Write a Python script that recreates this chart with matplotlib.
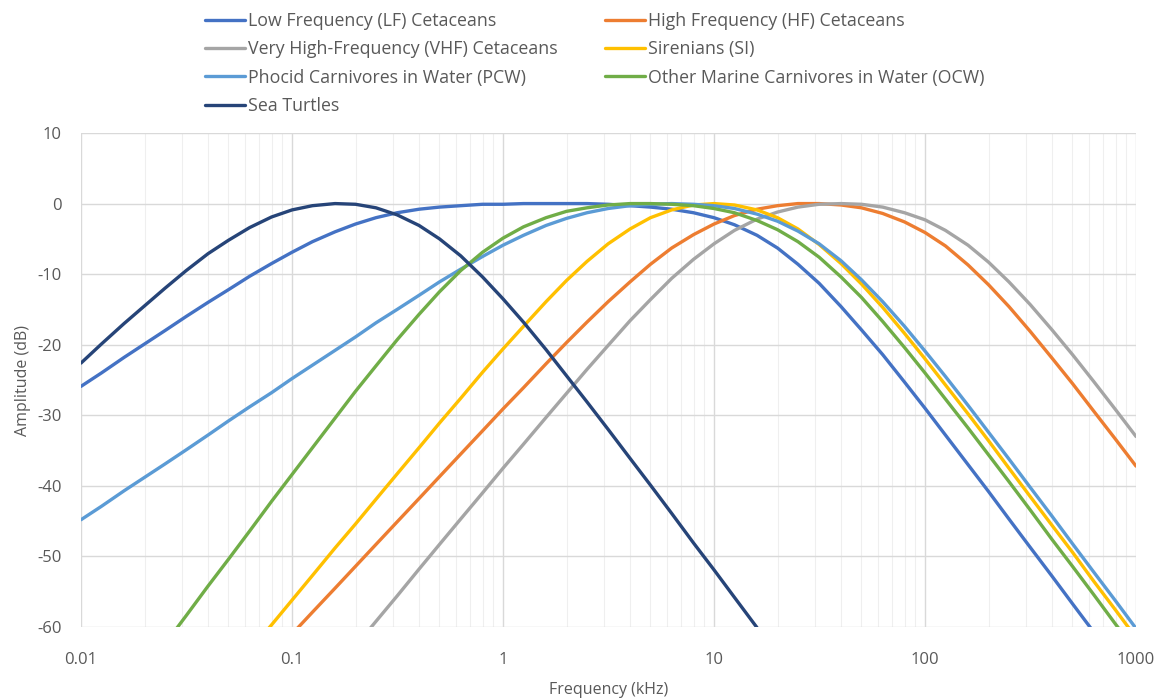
import numpy as np
import matplotlib
matplotlib.use("Agg")
import matplotlib.pyplot as plt

# Frequency (kHz) at which the curves were read
freq = [0.01, 0.0125, 0.016, 0.02, 0.025, 0.0315, 0.04, 0.05, 0.063, 0.08,
        0.1, 0.125, 0.16, 0.2, 0.25, 0.315, 0.4, 0.5, 0.63, 0.8,
        1.0, 1.25, 1.6, 2.0, 2.5, 3.15, 4.0, 5.0, 6.3, 8.0,
        10.0, 12.5, 16.0, 20.0, 25.0, 31.5, 40.0, 50.0, 63.0, 80.0,
        100.0, 125.0, 160.0, 200.0, 250.0, 315.0, 400.0, 500.0, 630.0, 800.0, 1000.0]

# Amplitude (dB); None = below the plotted range
lf = [-25.9, -24.0, -21.8, -19.9, -18.0, -16.0, -14.0, -12.2, -10.3, -8.5,
      -6.9, -5.4, -4.0, -2.9, -2.0, -1.3, -0.8, -0.5, -0.3, -0.1,
      -0.1, 0.0, 0.0, 0.0, 0.0, -0.1, -0.3, -0.5, -0.8, -1.3,
      -2.0, -3.0, -4.5, -6.3, -8.6, -11.3, -14.6, -17.9, -21.4, -25.3,
      -29.0, -32.8, -37.0, -40.8, -44.7, -48.7, -52.8, -56.7, -60.7, None, None]
hf = [None, None, None, None, None, None, None, None, None, None,
      -61.0, -57.9, -54.5, -51.4, -48.3, -45.1, -41.8, -38.7, -35.5, -32.2,
      -29.1, -26.1, -22.7, -19.7, -16.8, -13.9, -11.1, -8.6, -6.3, -4.4,
      -2.9, -1.7, -0.8, -0.3, 0.0, 0.0, -0.2, -0.6, -1.4, -2.6,
      -4.1, -6.0, -8.7, -11.5, -14.6, -18.1, -21.9, -25.5, -29.4, -33.4, -37.2]
vhf = [None, None, None, None, None, None, None, None, None, None,
       None, None, None, -62.7, -59.2, -55.6, -51.8, -48.3, -44.7, -41.0,
       -37.5, -34.1, -30.3, -26.9, -23.5, -20.1, -16.6, -13.6, -10.6, -7.9,
       -5.7, -3.8, -2.2, -1.2, -0.5, -0.1, 0.0, -0.1, -0.5, -1.3,
       -2.3, -3.8, -5.9, -8.3, -11.1, -14.3, -17.9, -21.4, -25.2, -29.2, -33.0]
si = [None, None, None, None, None, None, None, None, -63.4, -59.7,
      -56.2, -52.7, -48.8, -45.4, -41.9, -38.3, -34.6, -31.1, -27.6, -23.9,
      -20.6, -17.4, -13.9, -10.9, -8.2, -5.7, -3.6, -2.0, -0.9, -0.2,
      0.0, -0.2, -0.9, -2.0, -3.6, -5.8, -8.5, -11.4, -14.7, -18.4,
      -22.0, -25.7, -29.8, -33.6, -37.5, -41.5, -45.6, -49.4, -53.5, -57.6, -61.5]
pcw = [-44.8, -42.9, -40.7, -38.8, -36.9, -34.9, -32.8, -30.8, -28.8, -26.8,
       -24.8, -22.9, -20.8, -18.9, -16.9, -15.0, -13.0, -11.1, -9.3, -7.5,
       -5.9, -4.5, -3.1, -2.1, -1.3, -0.7, -0.3, -0.1, 0.0, -0.1,
       -0.3, -0.7, -1.5, -2.5, -3.9, -5.7, -8.1, -10.8, -13.9, -17.4,
       -20.9, -24.5, -28.6, -32.4, -36.2, -40.2, -44.3, -48.2, -52.2, -56.3, -60.2]
ocw = [None, None, None, None, -62.4, -58.4, -54.2, -50.4, -46.4, -42.2,
       -38.4, -34.6, -30.4, -26.6, -23.0, -19.3, -15.7, -12.5, -9.5, -6.9,
       -4.9, -3.3, -2.0, -1.1, -0.6, -0.2, 0.0, 0.0, -0.1, -0.3,
       -0.7, -1.3, -2.4, -3.7, -5.4, -7.6, -10.4, -13.3, -16.7, -20.4,
       -24.0, -27.7, -31.8, -35.6, -39.4, -43.4, -47.6, -51.4, -55.4, -59.6, -63.4]
turtles = [-22.6, -19.9, -17.0, -14.5, -12.0, -9.5, -7.1, -5.2, -3.4, -1.9,
           -0.9, -0.3, 0.0, -0.1, -0.6, -1.6, -3.1, -5.0, -7.4, -10.4,
           -13.5, -16.8, -20.7, -24.4, -28.1, -32.0, -36.1, -39.9, -43.9, -48.1,
           -51.9, -55.8, -60.1, None, None, None, None, None, None, None,
           None, None, None, None, None, None, None, None, None, None, None]

names = ["Low Frequency (LF) Cetaceans", "High Frequency (HF) Cetaceans",
         "Very High-Frequency (VHF) Cetaceans", "Sirenians (SI)",
         "Phocid Carnivores in Water (PCW)", "Other Marine Carnivores in Water (OCW)",
         "Sea Turtles"]
colors = ["#4472C4", "#ED7D31", "#A5A5A5", "#FFC000", "#5B9BD5", "#70AD47", "#264478"]
data = [lf, hf, vhf, si, pcw, ocw, turtles]
xticks = [0.01, 0.1, 1, 10, 100, 1000]
xticklabels = ["0.01", "0.1", "1", "10", "100", "1000"]
yticks = [-60, -50, -40, -30, -20, -10, 0, 10]


def arr(v):
    return np.array([np.nan if x is None else x for x in v], dtype=float)


plt.rcParams['font.family'] = ['Open Sans', 'DejaVu Sans']
plt.rcParams['axes.unicode_minus'] = False
txt = '#595959'
fig = plt.figure(figsize=(11.57, 7), dpi=100)
ax = fig.add_axes([81 / 1157, 1 - 627 / 700, (1136 - 81) / 1157, (627 - 133) / 700])

handles = []
for name, vals, col in zip(names, data, colors):
    h, = ax.plot(freq, arr(vals), color=col, lw=2.4, solid_capstyle='round',
                 solid_joinstyle='round', label=name)
    handles.append(h)

ax.set_xscale('log')
ax.set_xlim(0.01, 1000)
ax.set_ylim(-60, 10)
ax.set_yticks(yticks)
ax.set_xticks(xticks)
ax.set_xticklabels(xticklabels)
ax.grid(True, which='major', color='#D9D9D9', lw=1.0)
ax.grid(True, which='minor', axis='x', color='#EFEFEF', lw=0.8)
ax.set_axisbelow(True)
for s in ax.spines.values():
    s.set_visible(False)
ax.tick_params(which='both', length=0, colors=txt, labelsize=12)
ax.tick_params(axis='x', pad=18)
ax.tick_params(axis='y', pad=14)
ax.set_xlabel("Frequency (kHz)", color=txt, fontsize=11.5, labelpad=10)
ax.set_ylabel("Amplitude (dB)", color=txt, fontsize=11.5, labelpad=4)

col1 = [0, 2, 4, 6]
col2 = [1, 3, 5]
for idxs, x0 in ((col1, 205), (col2, 605)):
    leg = fig.legend([handles[i] for i in idxs], [names[i] for i in idxs],
                     loc='upper left', bbox_to_anchor=(x0 / 1157, 1 - 12 / 700),
                     frameon=False, fontsize=12.8, handlelength=2.25,
                     handletextpad=0.17, borderpad=0, borderaxespad=0,
                     labelspacing=0.58)
    for t in leg.get_texts():
        t.set_color(txt)

fig.savefig("out.png", dpi=100)
